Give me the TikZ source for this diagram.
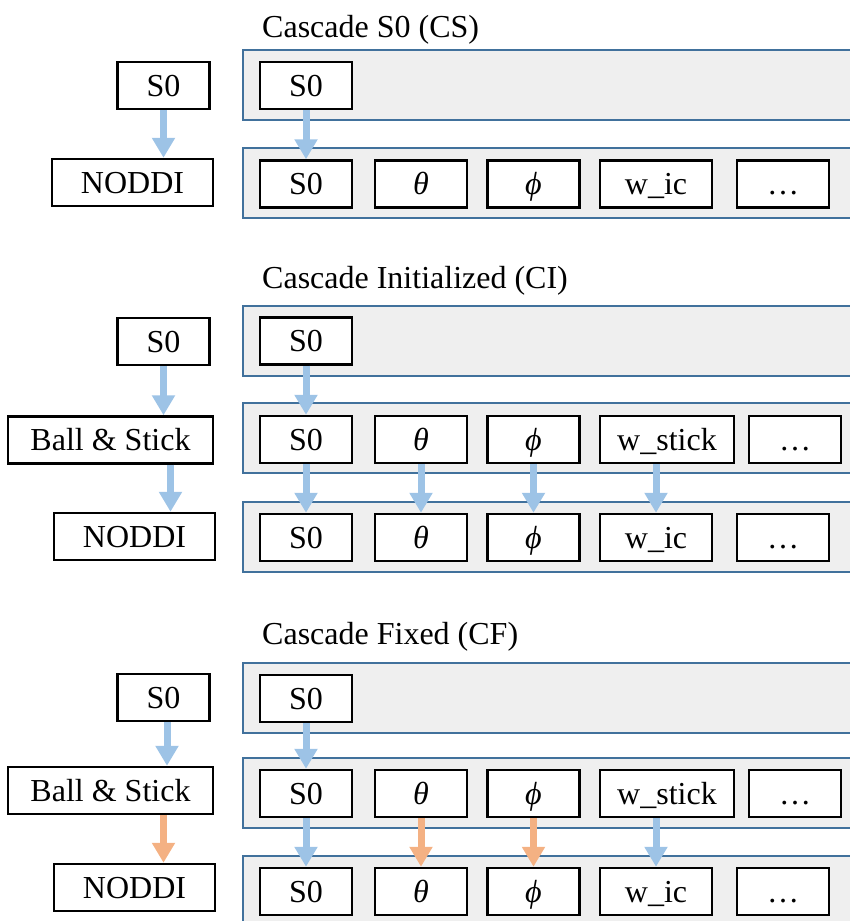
\documentclass[tikz,border=0pt]{standalone}
\usepackage{fontspec}
\setmainfont{Liberation Serif}
\usetikzlibrary{arrows.meta,positioning,calc}
\definecolor{pnBlue}  {RGB}{ 65,113,156}
\definecolor{pnGrey}  {RGB}{239,239,239}
\definecolor{arBlue}  {RGB}{157,195,230}
\definecolor{arOrange}{RGB}{244,177,131}

\tikzset{
  prm/.style={draw=black, line width=2.4pt, fill=white, inner sep=0pt,
              minimum height=47pt, minimum width=92pt,
              text height=21pt, text depth=0pt,
              font=\fontsize{32}{38}\selectfont},
  panel/.style={draw=pnBlue, line width=2pt, fill=pnGrey},
  flow/.style={line width=7pt, arBlue, -{Triangle[width=22pt,length=20pt]}},
  fixed/.style={flow, arOrange},
  title/.style={anchor=base west, inner sep=0pt, font=\fontsize{32}{38}\selectfont}
}

\begin{document}
\begin{tikzpicture}[x=1pt,y=-1pt]
\clip (0,0) rectangle (850,921);

% Panels: grey strips that run off the right edge
\foreach \top in {50,148, 306,403,502, 663,758,856}{
  \draw[panel] (243,\top) rectangle (880,\top+70);
}

% Titles
\node[title] (tCS) at (262,37)  {Cascade S0 (CS)};
\node[title] (tCI) at (262,288) {Cascade Initialized (CI)};
\node[title] (tCF) at (262,644) {Cascade Fixed (CF)};

% Left column: models fitted one after the other
\node[prm]                   (csS0)    at (163.5,85.5)  {S0};
\node[prm,minimum width=161] (csNODDI) at (132.5,182.5) {NODDI};

\node[prm]                   (ciS0)    at (163.5,341.5) {S0};
\node[prm,minimum width=205] (ciBS)    at (110.5,440)   {Ball \& Stick};
\node[prm,minimum width=161] (ciNODDI) at (134.5,536.5) {NODDI};

\node[prm]                   (cfS0)    at (163.5,697.5) {S0};
\node[prm,minimum width=205] (cfBS)    at (110.5,790.5) {Ball \& Stick};
\node[prm,minimum width=161] (cfNODDI) at (134.5,887.5) {NODDI};

% First row of each cascade: S0 only
\foreach \nm/\y in {cs1/85.5, ci1/341, cf1/698.5}{
  \node[prm] (\nm s0) at (306,\y) {S0};
}

% Full parameter rows
\foreach \nm/\y/\wt/\wx/\ww/\dx in {
   cs2/184/w\_ic/656/112/783,
   ci2/439.5/w\_stick/667/134/795,
   ci3/537.5/w\_ic/656/112/783,
   cf2/793.5/w\_stick/667/134/795,
   cf3/891.5/w\_ic/656/112/783
}{
  \node[prm] (\nm s0) at (306,\y)   {S0};
  \node[prm] (\nm th) at (421,\y)   {\itshape θ};
  \node[prm] (\nm ph) at (533.5,\y) {\itshape ϕ};
  \node[prm,minimum width=\ww] (\nm w) at (\wx,\y) {\wt};
  \node[prm] (\nm d)  at (\dx,\y)   {\ldots};
}

% Left column arrows
\draw[flow]  (csS0.south) -- (csS0.south |- csNODDI.north);
\draw[flow]  (ciS0.south) -- (ciS0.south |- ciBS.north);
\draw[flow]  ($(ciBS.south -| ciS0)+(7,0)$) -- ($(ciNODDI.north -| ciS0)+(7,0)$);
\draw[flow]  ($(cfS0.south)+(3.5,0)$) -- ($(cfBS.north -| cfS0)+(3.5,0)$);
\draw[fixed] (cfBS.south -| cfS0) -- (cfNODDI.north -| cfS0);

% S0 passed down from the first row
\draw[flow] (cs1s0) -- (cs2s0.north);
\draw[flow] (ci1s0) -- (ci2s0.north);
\draw[flow] (cf1s0) -- (cf2s0.north);

% Ball & Stick -> NODDI, initialized
\foreach \p in {s0,th,ph,w}{
  \draw[flow] (ci2\p.south -| ci3\p) -- (ci3\p.north);
}
% Ball & Stick -> NODDI, orientation kept fixed
\draw[flow]  (cf2s0.south -| cf3s0) -- (cf3s0.north);
\draw[fixed] (cf2th.south -| cf3th) -- (cf3th.north);
\draw[fixed] (cf2ph.south -| cf3ph) -- (cf3ph.north);
\draw[flow]  (cf2w.south -| cf3w)   -- (cf3w.north);
\end{tikzpicture}
\end{document}
